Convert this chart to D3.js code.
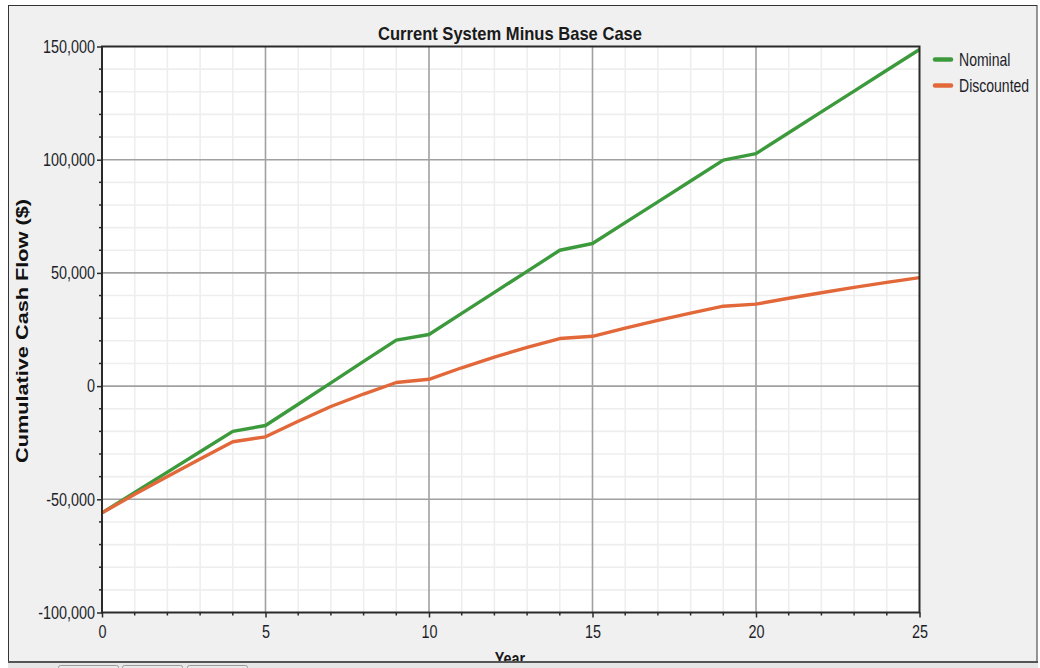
<!DOCTYPE html>
<html>
<head>
<meta charset="utf-8">
<script src="https://cdn.jsdelivr.net/npm/d3@7"></script>
<style>
  html, body { margin: 0; padding: 0; background: #ffffff; }
  svg { display: block; }
</style>
</head>
<body>
<svg id="chart" width="1040" height="668"></svg>
<script>
// Cumulative cash flow by project year, current system minus the base case
const years = d3.range(0, 26);
const nominal = [
  -56000, -47000, -38000, -29000, -20000, -17400,
  -8000, 1400, 10900, 20300, 22800,
  32100, 41400, 50700, 60000, 63000,
  72200, 81400, 90600, 99800, 102700,
  111900, 121100, 130300, 139500, 148700
];
const discounted = [
  -56000, -47800, -39900, -32200, -24600, -22400,
  -15500, -9000, -3500, 1600, 3000,
  8100, 12800, 17100, 21000, 22000,
  25600, 29000, 32200, 35300, 36200,
  38800, 41250, 43600, 45800, 47900
];
const seriesNames = ["Nominal", "Discounted"];
const seriesColors = ["#3c9a3c", "#e2683a"];
const xTicks = [0, 5, 10, 15, 20, 25];
const yTicks = [-100000, -50000, 0, 50000, 100000, 150000];
const titleText = "Current System Minus Base Case";
const xTitle = "Year";
const yTitle = "Cumulative Cash Flow ($)";

const svg = d3.select("#chart");
const sans = "'Liberation Sans', Arial, sans-serif";

// squeeze glyphs horizontally to get a narrow face from the regular one
function condense(sel, ratio) {
  sel.each(function () {
    const w = this.getComputedTextLength();
    d3.select(this).attr("textLength", w * ratio).attr("lengthAdjust", "spacingAndGlyphs");
  });
}

// window panel
svg.append("rect").attr("x", 8.5).attr("y", 5.5).attr("width", 1028.5).attr("height", 658)
  .attr("fill", "#f0f0f0").attr("stroke", "#333").attr("stroke-width", 1);

const plot = { left: 102, right: 919.5, top: 46.5, bottom: 612.5 };
const x = d3.scaleLinear().domain([0, 25]).range([plot.left, plot.right]);
const y = d3.scaleLinear().domain([-100000, 150000]).range([plot.bottom, plot.top]);

svg.append("rect").attr("x", plot.left).attr("y", plot.top)
  .attr("width", plot.right - plot.left).attr("height", plot.bottom - plot.top)
  .attr("fill", "#ffffff");

// minor grid
const g = svg.append("g");
const minorYears = d3.range(1, 25).filter(v => v % 5 !== 0);
const minorValues = d3.range(-90000, 150000, 10000).filter(v => v % 50000 !== 0);
g.selectAll("line.vminor").data(minorYears).join("line")
  .attr("x1", d => x(d)).attr("x2", d => x(d)).attr("y1", plot.top).attr("y2", plot.bottom)
  .attr("stroke", "#eeeeee").attr("stroke-width", 1.6);
g.selectAll("line.hminor").data(minorValues).join("line")
  .attr("y1", d => y(d)).attr("y2", d => y(d)).attr("x1", plot.left).attr("x2", plot.right)
  .attr("stroke", "#eeeeee").attr("stroke-width", 1.6);
// major grid
g.selectAll("line.vmajor").data(xTicks.slice(1, -1)).join("line")
  .attr("x1", d => x(d)).attr("x2", d => x(d)).attr("y1", plot.top).attr("y2", plot.bottom)
  .attr("stroke", "#a0a0a0").attr("stroke-width", 1.6);
g.selectAll("line.hmajor").data(yTicks.slice(1, -1)).join("line")
  .attr("y1", d => y(d)).attr("y2", d => y(d)).attr("x1", plot.left).attr("x2", plot.right)
  .attr("stroke", "#a0a0a0").attr("stroke-width", 1.6);

// series
const line = d3.line().x((d, i) => x(years[i])).y(d => y(d));
[nominal, discounted].forEach((s, k) => {
  svg.append("path").datum(s).attr("d", line)
    .attr("fill", "none").attr("stroke", seriesColors[k]).attr("stroke-width", 3.4)
    .attr("stroke-linejoin", "round");
});

// plot frame
svg.append("rect").attr("x", plot.left).attr("y", plot.top)
  .attr("width", plot.right - plot.left).attr("height", plot.bottom - plot.top)
  .attr("fill", "none").attr("stroke", "#2a2a2a").attr("stroke-width", 2);

// axes (plain hyphen for negatives)
const fmt = d => d3.format(",")(d).replace("\u2212", "-");
const yAxis = svg.append("g").attr("transform", `translate(${plot.left},0)`)
  .call(d3.axisLeft(y).tickValues(yTicks).tickFormat(fmt).tickSize(5).tickPadding(2));
const xAxis = svg.append("g").attr("transform", `translate(0,${plot.bottom})`)
  .call(d3.axisBottom(x).tickValues(xTicks).tickFormat(d3.format("d")).tickSize(5).tickPadding(8));
[yAxis, xAxis].forEach(a => {
  a.select(".domain").remove();
  a.selectAll(".tick line").attr("stroke", "#2a2a2a").attr("stroke-width", 1.5);
  a.selectAll(".tick text").attr("fill", "#1e1e2a").style("font-family", sans).style("font-size", "18px")
    .call(condense, 0.8);
});
// minor ticks
svg.append("g").selectAll("line").data(minorValues).join("line")
  .attr("x1", plot.left - 3).attr("x2", plot.left).attr("y1", d => y(d)).attr("y2", d => y(d))
  .attr("stroke", "#2a2a2a").attr("stroke-width", 1.5);
svg.append("g").selectAll("line").data(minorYears).join("line")
  .attr("y1", plot.bottom).attr("y2", plot.bottom + 3).attr("x1", d => x(d)).attr("x2", d => x(d))
  .attr("stroke", "#2a2a2a").attr("stroke-width", 1.5);

// titles
svg.append("text").attr("x", 510).attr("y", 40).attr("text-anchor", "middle")
  .style("font-family", sans).style("font-size", "19px").style("font-weight", "bold")
  .attr("fill", "#1a1a1a").text(titleText)
  .attr("textLength", 264).attr("lengthAdjust", "spacingAndGlyphs");
svg.append("text").attr("transform", "translate(28,331) rotate(-90)").attr("text-anchor", "middle")
  .style("font-family", sans).style("font-size", "17px").style("font-weight", "bold")
  .attr("textLength", 264).attr("lengthAdjust", "spacingAndGlyphs")
  .attr("fill", "#111").text(yTitle);
svg.append("text").attr("x", 510).attr("y", 665).attr("text-anchor", "middle")
  .style("font-family", sans).style("font-size", "18px").style("font-weight", "bold")
  .attr("fill", "#1a1a1a").text(xTitle)
  .call(condense, 0.8);

// legend: narrow labels via a horizontal scale on each entry
const legend = svg.append("g");
seriesNames.forEach((name, k) => {
  const ly = 59.5 + k * 26;
  legend.append("line").attr("x1", 935).attr("x2", 951).attr("y1", ly).attr("y2", ly)
    .attr("stroke", seriesColors[k]).attr("stroke-width", 4.5).attr("stroke-linecap", "round");
  legend.append("text").attr("transform", `translate(959,${ly}) scale(0.78,1)`).attr("dy", "0.35em")
    .style("font-family", sans).style("font-size", "18px").attr("fill", "#1e1e2a").text(name);
});

// tab strip along the bottom edge
svg.append("rect").attr("x", 8).attr("y", 662).attr("width", 1030).attr("height", 6).attr("fill", "#e6e6e6");
svg.append("line").attr("x1", 8).attr("x2", 1038).attr("y1", 662).attr("y2", 662)
  .attr("stroke", "#555").attr("stroke-width", 2);
[[58, 118], [122, 182], [187, 247]].forEach(t => {
  svg.append("rect").attr("x", t[0] + 0.5).attr("y", 665.5).attr("width", t[1] - t[0]).attr("height", 8)
    .attr("fill", "#e9e9e9").attr("stroke", "#9a9a9a").attr("stroke-width", 1).attr("rx", 2);
});
</script>
</body>
</html>
